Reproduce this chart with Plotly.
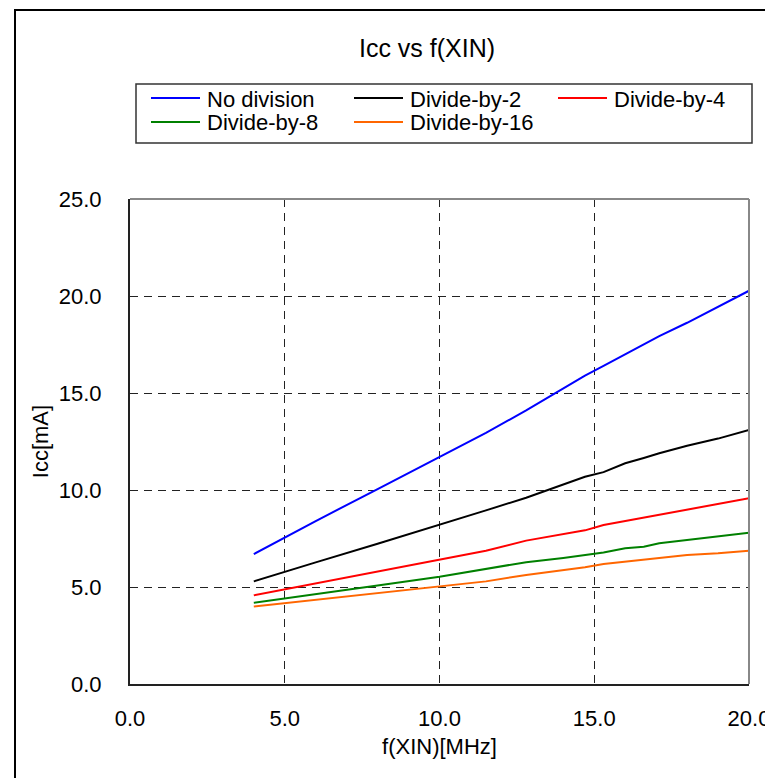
import plotly.graph_objects as go

freq = [4, 5, 6, 8, 10, 11.5, 12.8, 14, 14.7, 15.3, 16, 16.6, 17.1, 18, 19, 20]
no_division = [6.70, 7.56, 8.40, 10.05, 11.72, 12.95, 14.10, 15.26, 15.90, 16.40, 16.99, 17.50, 17.93, 18.62, 19.43, 20.27]
divide_by_2 = [5.29, 5.79, 6.27, 7.23, 8.20, 8.95, 9.60, 10.30, 10.68, 10.92, 11.38, 11.65, 11.89, 12.28, 12.65, 13.10]
divide_by_4 = [4.57, 4.88, 5.19, 5.80, 6.43, 6.87, 7.39, 7.72, 7.92, 8.20, 8.40, 8.58, 8.73, 8.99, 9.28, 9.57]
divide_by_8 = [4.19, 4.42, 4.64, 5.08, 5.53, 5.95, 6.28, 6.50, 6.64, 6.78, 7.00, 7.08, 7.25, 7.43, 7.60, 7.80]
divide_by_16 = [3.99, 4.16, 4.33, 4.67, 5.02, 5.29, 5.62, 5.86, 6.02, 6.19, 6.30, 6.41, 6.50, 6.65, 6.74, 6.87]

series_names = ["No division", "Divide-by-2", "Divide-by-4", "Divide-by-8", "Divide-by-16"]
series_values = [no_division, divide_by_2, divide_by_4, divide_by_8, divide_by_16]
series_colors = ["#0000ff", "#000000", "#ff0000", "#008000", "#ff6600"]

x_ticks = [0, 5, 10, 15, 20]
y_ticks = [0, 5, 10, 15, 20, 25]

FONT = "Arial, Liberation Sans, sans-serif"

fig = go.Figure()
for name, vals, col in zip(series_names, series_values, series_colors):
    fig.add_trace(go.Scatter(x=freq, y=vals, mode="lines", name=name,
                             line=dict(color=col, width=2), showlegend=False))

# figure sits at an 8px page offset, so it is 8px smaller than the window
W, H = 765, 770
L, R, T, B = 122, 24, 191, 94
pw, ph = W - L - R, H - T - B

def px_x(p):
    return (p - L) / pw

def px_y(p):
    return (H - B - p) / ph

shapes = [
    dict(type="line", xref="paper", yref="paper", x0=0, x1=1, y0=1, y1=1,
         line=dict(color="#888888", width=2)),
    dict(type="line", xref="paper", yref="paper", x0=1, x1=1, y0=0, y1=1,
         line=dict(color="#888888", width=2)),
    dict(type="rect", xref="paper", yref="paper",
         x0=px_x(7), x1=px_x(800), y0=px_y(2), y1=px_y(800),
         line=dict(color="black", width=2), layer="below"),
    # legend box
    dict(type="rect", xref="paper", yref="paper",
         x0=px_x(128), x1=px_x(744), y0=px_y(76), y1=px_y(135),
         line=dict(color="#333333", width=1.5), fillcolor="white", layer="below"),
]
annotations = []

# legend entries (3 columns, 2 rows), drawn in pixel layout positions
col_x = [143, 346, 550]
row_y = [90, 114]
LINE_LEN, TEXT_OFF = 49, 54
for i, (name, col) in enumerate(zip(series_names, series_colors)):
    cx = col_x[i % 3]
    ry = row_y[i // 3]
    shapes.append(dict(type="line", xref="paper", yref="paper",
                       x0=px_x(cx), x1=px_x(cx + LINE_LEN),
                       y0=px_y(ry), y1=px_y(ry),
                       line=dict(color=col, width=2)))
    annotations.append(dict(text=name, xref="paper", yref="paper",
                            x=px_x(cx + TEXT_OFF), y=px_y(ry + 1),
                            xanchor="left", yanchor="middle", showarrow=False,
                            font=dict(family=FONT, size=22, color="black")))

fig.update_layout(
    width=W, height=H,
    margin=dict(l=L, r=R, t=T, b=B),
    paper_bgcolor="white", plot_bgcolor="white",
    font=dict(family=FONT, size=22, color="black"),
    title=dict(text="Icc vs f(XIN)", x=419 / W, xanchor="center",
               y=1 - 40 / H, yanchor="middle",
               font=dict(family=FONT, size=25, color="black")),
    showlegend=False,
    xaxis=dict(range=[0, 20], tickvals=x_ticks, tickformat=".1f",
               showline=True, linecolor="#222222", linewidth=2,
               showgrid=True, gridcolor="#222222", gridwidth=1,
               griddash="8px,6px", zeroline=False,
               ticks="", ticklabelstandoff=14,
               tickfont=dict(size=22),
               title=dict(text="f(XIN)[MHz]", font=dict(size=22), standoff=8),
               automargin=False),
    yaxis=dict(range=[0, 25], tickvals=y_ticks, tickformat=".1f",
               showline=True, linecolor="#222222", linewidth=2,
               showgrid=True, gridcolor="#222222", gridwidth=1,
               griddash="8px,6px", zeroline=False,
               ticks="", ticklabelstandoff=22,
               tickfont=dict(size=22),
               title=dict(text="Icc[mA]", font=dict(size=22), standoff=4),
               automargin=False),
    shapes=shapes,
    annotations=annotations,
)

fig.write_html("out.html")
